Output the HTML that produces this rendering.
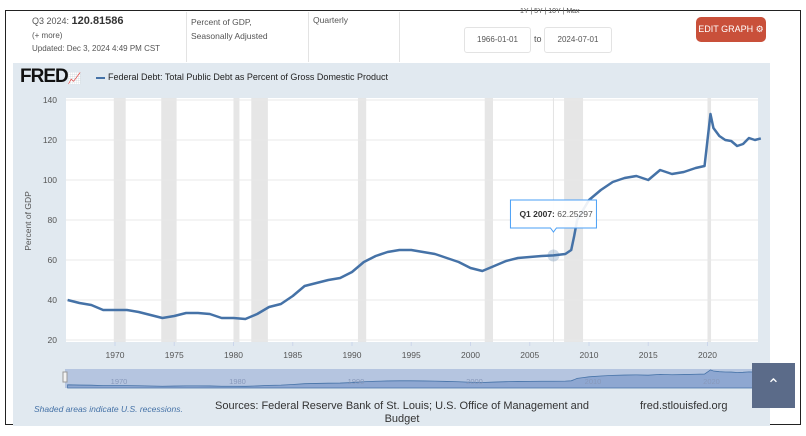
<!DOCTYPE html>
<html><head><meta charset="utf-8"><style>
body{margin:0;width:806px;height:436px;background:#fff;font-family:"Liberation Sans",sans-serif;overflow:hidden;position:relative}
.t{position:absolute;color:#555;font-size:9px;white-space:nowrap}
</style></head><body>
<div style="position:absolute;left:5px;top:10px;width:794px;height:413px;border:1px solid #222;border-bottom:1.5px solid #222"></div>
<div class="t" style="left:32px;top:15px;font-size:9px">Q3 2024: <b style="font-size:11px;color:#333">120.81586</b></div>
<div class="t" style="left:32px;top:31px;font-size:8px">(+ more)</div>
<div class="t" style="left:32px;top:44px;font-size:8px">Updated: Dec 3, 2024 4:49 PM CST</div>
<div style="position:absolute;left:186px;top:12px;height:50px;border-left:1px solid #e3e3e3"></div>
<div class="t" style="left:191px;top:15px;line-height:14px;font-size:8.5px">Percent of GDP,<br>Seasonally Adjusted</div>
<div style="position:absolute;left:308px;top:12px;height:50px;border-left:1px solid #e3e3e3"></div>
<div class="t" style="left:313px;top:15px;font-size:8.5px">Quarterly</div>
<div style="position:absolute;left:399px;top:12px;height:50px;border-left:1px solid #e3e3e3"></div>
<div class="t" style="left:520px;top:8px;font-size:7px">1Y | 5Y | 10Y | Max</div>
<div style="position:absolute;left:464px;top:27px;width:65px;height:24px;border:1px solid #e3e3e3;border-radius:3px;font-size:8px;color:#555;line-height:24px;text-align:center">1966-01-01</div>
<div class="t" style="left:534px;top:34px">to</div>
<div style="position:absolute;left:544px;top:27px;width:66px;height:24px;border:1px solid #e3e3e3;border-radius:3px;font-size:8px;color:#555;line-height:24px;text-align:center">2024-07-01</div>
<div style="position:absolute;left:696px;top:17px;width:70px;height:25px;background:#c9503a;border-radius:5px;color:#fff;font-size:9px;line-height:25px;text-align:center">EDIT GRAPH ⚙</div>
<div style="position:absolute;left:13px;top:63px;width:757px;height:363px;background:#e1e9f0"></div>
<div style="position:absolute;left:20px;top:66px;font-weight:bold;font-size:19px;color:#111;letter-spacing:-1px">FRED<span style="font-size:11px;color:#8aa">📈</span></div>
<div class="t" style="left:96px;top:72px;color:#222;font-size:9px"><span style="display:inline-block;width:9px;height:2px;background:#4572a7;vertical-align:middle;margin-right:3px"></span>Federal Debt: Total Public Debt as Percent of Gross Domestic Product</div>
<svg id="c" width="806" height="436" style="position:absolute;left:0;top:0"></svg>
<div class="t" style="left:34px;top:404px;color:#4572a7;font-style:italic;font-size:8.5px">Shaded areas indicate U.S. recessions.</div>
<div class="t" style="left:215px;top:400px;color:#333;font-size:11px;text-align:center;line-height:13px">Sources: Federal Reserve Bank of St. Louis; U.S. Office of Management and<br>Budget</div>
<div class="t" style="left:640px;top:400px;color:#333;font-size:11px">fred.stlouisfed.org</div>
<div style="position:absolute;left:752px;top:363px;width:43px;height:45px;background:#5b6b89;color:#fff;font-size:16px;text-align:center;line-height:45px">⌃</div>
<script>
const years=[1966,1967,1968,1969,1970,1971,1972,1973,1974,1975,1976,1977,1978,1979,1980,1981,1982,1983,1984,1985,1986,1987,1988,1989,1990,1991,1992,1993,1994,1995,1996,1997,1998,1999,2000,2001,2002,2003,2004,2005,2006,2007,2008,2008.5,2008.75,2009,2009.5,2010,2011,2012,2013,2014,2015,2016,2017,2018,2019,2019.75,2020.25,2020.5,2021,2021.5,2022,2022.5,2023,2023.5,2024,2024.5];
const values=[40,38.5,37.5,35,35,35,34,32.5,31,32,33.5,33.5,33,31,31,30.5,33,36.5,38,42,47,48.5,50,51,54,59,62,64,65,65,64,63,61,59,56,54.5,57,59.5,61,61.5,62,62.3,63,65,72,80,85,90,95,99,101,102,100,105,103,104,106,107,133,126,122,120,119.5,117,118,121,120,120.8];
const recStart=[1969.9,1973.9,1980.0,1981.5,1990.5,2001.2,2007.9,2020.0];
const recEnd=[1970.9,1975.2,1980.5,1982.9,1991.2,2001.9,2009.5,2020.3];
const yTicks=[20,40,60,80,100,120,140];
const xTicks=[1970,1975,1980,1985,1990,1995,2000,2005,2010,2015,2020];
const navTicks=[1970,1980,1990,2000,2010,2020];
const X=y=>67.6+(y-1966)*11.85;
const Y=v=>340-(v-20)*2;
const NY=v=>388-(v-20)*0.16;
const s=document.getElementById('c');const ns='http://www.w3.org/2000/svg';
function mk(t,a,p){const e=document.createElementNS(ns,t);for(const k in a)e.setAttribute(k,a[k]);(p||s).appendChild(e);return e;}
let e=mk('rect',{x:66,y:98,width:692,height:244,fill:'#fff'});

recStart.forEach((r,i)=>{const b=mk('rect',{x:X(r),y:98,width:X(recEnd[i])-X(r),height:244,fill:'#e6e6e6'});
});
yTicks.forEach(v=>{const g=mk('line',{x1:66,x2:758,y1:Y(v),y2:Y(v),stroke:'#e8e8e8'});

const t=mk('text',{x:57,y:Y(v)+3,'font-size':8.5,fill:'#555','text-anchor':'end'});t.textContent=v;
});
xTicks.forEach(v=>{const g=mk('line',{x1:X(v),x2:X(v),y1:342,y2:346,stroke:'#ccd6eb'});

const t=mk('text',{x:X(v),y:358,'font-size':8.5,fill:'#555','text-anchor':'middle'});t.textContent=v;
});
const yt=mk('text',{x:31,y:221,'font-size':8.5,fill:'#555','text-anchor':'middle',transform:'rotate(-90 31 221)'});yt.textContent='Percent of GDP';

const cx=X(2007),cy=Y(62.25);
e=mk('line',{x1:cx,x2:cx,y1:98,y2:342,stroke:'#e3e3e3'});

const pts=years.map((y,i)=>X(y)+','+Y(values[i])).join(' ');
e=mk('polyline',{points:pts,fill:'none',stroke:'#4572a7','stroke-width':2.5,'stroke-linejoin':'round'});

e=mk('circle',{cx:cx,cy:cy,r:6,fill:'#4572a7','fill-opacity':0.25});

e=mk('path',{d:`M${cx-43} 200 h86 v28 h-40 l-3 4 l-3 -4 h-40 z`,fill:'#fff','fill-opacity':0.9,stroke:'#4a9ff5'});

const tt=mk('text',{x:cx-34,y:217,'font-size':8.5,fill:'#555'});tt.innerHTML='<tspan font-weight="bold" fill="#333">Q1 2007:</tspan> 62.25297';

e=mk('rect',{x:65,y:369,width:693,height:19,fill:'#b5c5e0'});

const np='M'+X(1966)+',388 '+years.map((y,i)=>'L'+X(y)+','+NY(values[i])).join(' ')+' L'+X(2024.5)+',388Z';
e=mk('path',{d:np,fill:'#8ea7d1',stroke:'#4572a7','stroke-width':0.8});

navTicks.forEach(v=>{const t=mk('text',{x:X(v)+4,y:384,'font-size':7.5,fill:'#8899bb','text-anchor':'middle'});t.textContent=v;
});
e=mk('rect',{x:63,y:372,width:4,height:10,fill:'#f2f2f2',stroke:'#999'});

</script>
</body></html>
